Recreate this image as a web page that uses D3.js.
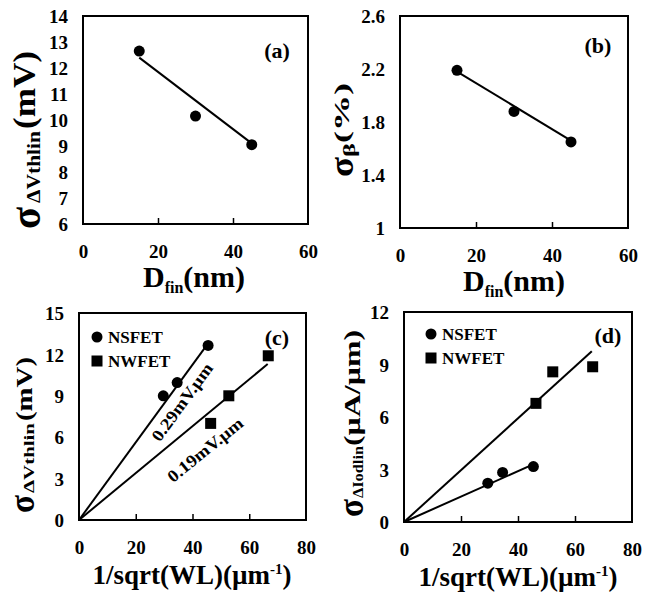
<!DOCTYPE html>
<html>
<head>
<meta charset="utf-8">
<script src="https://cdn.jsdelivr.net/npm/d3@7"></script>
<style>
  html, body { margin: 0; padding: 0; background: #fff; }
  svg { display: block; font-family: "Liberation Serif", "Times New Roman", serif; font-weight: bold; }
  svg text { font-family: "Liberation Serif", "Times New Roman", serif; font-weight: bold; fill: #000; }
</style>
</head>
<body>
<div id="chart"></div>
<script>
// ── data ────────────────────────────────────────────────────────────────
const dfin        = [15, 30, 45];
const sigmaVthA   = [12.65, 10.15, 9.05];
const fitA        = [[15, 12.4], [45, 9.1]];
const sigmaBeta   = [2.19, 1.88, 1.65];
const fitB        = [[15, 2.18], [45, 1.66]];

const nsInvC      = [29.7, 34.6, 45.5];
const nsVthC      = [9.0, 9.96, 12.65];
const nwInvC      = [46.4, 52.8, 66.7];
const nwVthC      = [7.0, 9.0, 11.9];
const fitNsC      = [[0, 0], [45.5, 12.8]];
const fitNwC      = [[0, 0], [66.5, 11.3]];

const nsInvD      = [29.4, 34.6, 45.4];
const nsIodD      = [2.22, 2.83, 3.17];
const nwInvD      = [46.3, 52.2, 66.2];
const nwIodD      = [6.78, 8.58, 8.87];
const fitNsD      = [[0, 0], [46.3, 3.36]];
const fitNwD      = [[0, 0], [65.9, 9.76]];

const ticksX60    = [0, 20, 40, 60];
const ticksX80    = [0, 20, 40, 60, 80];
const ticksYA     = [6, 7, 8, 9, 10, 11, 12, 13, 14];
const ticksYB     = [1, 1.4, 1.8, 2.2, 2.6];
const ticksYC     = [0, 3, 6, 9, 12, 15];
const ticksYD     = [0, 3, 6, 9, 12];

const legendNames = ['NSFET', 'NWFET'];
const slopeLabels = ['0.29mV.µm', '0.19mV.µm'];
// position of the slope notes in data units (x, y) and angle
const slopeNotes  = [[36.3, 8.55, -54], [44.4, 5.1, -39]];

const zip = (xs, ys) => xs.map((x, i) => [x, ys[i]]);

// ── panels ──────────────────────────────────────────────────────────────
const panels = [
  { tag: '(a)', box: [83, 308, 16, 224], xd: [0, 60], yd: [6, 14], xt: ticksX60, yt: ticksYA,
    fmt: d3.format('d'),
    series: [{ pts: zip(dfin, sigmaVthA), shape: 'circle', fit: fitA }],
    xTitle: { base: 'D', sub: 'fin', rest: '(nm)', cx: 194 },
    yTitle: { x: 35, y: 229, segs: [
      { t: 'σ', fs: 44, at: 0, len: 22, dy: 5 },
      { t: 'ΔVthlin', fs: 18, at: 26, len: 72, dy: 5 },
      { t: '(mV)', fs: 31, at: 100, len: 78, dy: 0 } ] },
    tagPos: [277, 58] },
  { tag: '(b)', box: [400, 628, 16, 228], xd: [0, 60], yd: [1, 2.6], xt: ticksX60, yt: ticksYB,
    fmt: d => d === 1 ? '1' : d3.format('.1f')(d),
    series: [{ pts: zip(dfin, sigmaBeta), shape: 'circle', fit: fitB }],
    xTitle: { base: 'D', sub: 'fin', rest: '(nm)', cx: 514 },
    yTitle: { x: 349, y: 177, segs: [
      { t: 'σ', fs: 34, at: 0, len: 20, dy: 4 },
      { t: 'β', fs: 17, at: 20, len: 14, dy: 6 },
      { t: '(%)', fs: 22, at: 34, len: 60, dy: 0 } ] },
    tagPos: [598, 53] },
  { tag: '(c)', box: [79, 306, 313, 520], xd: [0, 80], yd: [0, 15], xt: ticksX80, yt: ticksYC,
    fmt: d3.format('d'),
    series: [
      { pts: zip(nsInvC, nsVthC), shape: 'circle', fit: fitNsC },
      { pts: zip(nwInvC, nwVthC), shape: 'square', fit: fitNwC } ],
    legend: [97, 337],
    notes: true,
    xTitle: { wl: true, cx: 192 },
    yTitle: { x: 32, y: 513, segs: [
      { t: 'σ', fs: 36, at: 0, len: 18, dy: 2 },
      { t: 'ΔVthlin', fs: 15, at: 20, len: 70, dy: 2 },
      { t: '(mV)', fs: 24, at: 92, len: 64, dy: 0 } ] },
    tagPos: [277, 345] },
  { tag: '(d)', box: [404, 632, 312, 522], xd: [0, 80], yd: [0, 12], xt: ticksX80, yt: ticksYD,
    fmt: d3.format('d'),
    series: [
      { pts: zip(nsInvD, nsIodD), shape: 'circle', fit: fitNsD },
      { pts: zip(nwInvD, nwIodD), shape: 'square', fit: fitNwD } ],
    legend: [431, 334],
    xTitle: { wl: true, cx: 518 },
    yTitle: { x: 360, y: 517, segs: [
      { t: 'σ', fs: 36, at: 0, len: 18, dy: 3 },
      { t: 'ΔIodlin', fs: 15, at: 19, len: 52, dy: 3 },
      { t: '(µA/µm)', fs: 24, at: 71, len: 116, dy: 0 } ] },
    tagPos: [608, 343] }
];

const svg = d3.select('#chart').append('svg')
  .attr('width', 656).attr('height', 596)
  .style('background', '#fff');

panels.forEach(p => drawPanel(p));

function drawPanel(p) {
  const [x0, x1, y0, y1] = p.box;
  const x = d3.scaleLinear().domain(p.xd).range([x0, x1]);
  const y = d3.scaleLinear().domain(p.yd).range([y1, y0]);
  const g = svg.append('g');

  // inner tick marks on the bottom edge
  g.append('g').attr('transform', `translate(0,${y1})`)
    .call(d3.axisBottom(x).tickValues(p.xt.slice(1, -1)).tickSize(-6).tickFormat(''))
    .call(s => s.select('.domain').remove())
    .selectAll('line').attr('stroke', '#000').attr('stroke-width', 1.5);

  // tick labels
  g.append('g').attr('transform', `translate(0,${y1 + 34})`)
    .call(d3.axisBottom(x).tickValues(p.xt).tickSize(0).tickPadding(0).tickFormat(d3.format('d')))
    .attr('font-family', null).attr('font-size', null)
    .call(s => s.select('.domain').remove())
    .selectAll('text').attr('dy', 0)
    .style('font-size', '19px');

  g.append('g').attr('transform', `translate(${x0 - 15},0)`)
    .call(d3.axisLeft(y).tickValues(p.yt).tickSize(0).tickPadding(0).tickFormat(p.fmt))
    .attr('font-family', null).attr('font-size', null)
    .call(s => s.select('.domain').remove())
    .selectAll('text').attr('dy', '0.35em')
    .style('font-size', '19px');

  // frame
  g.append('rect').attr('x', x0).attr('y', y0).attr('width', x1 - x0).attr('height', y1 - y0)
    .attr('fill', 'none').attr('stroke', '#000').attr('stroke-width', 2);

  const line = d3.line().x(d => x(d[0])).y(d => y(d[1]));

  p.series.forEach(s => {
    g.append('path').attr('d', line(s.fit))
      .attr('fill', 'none').attr('stroke', '#000').attr('stroke-width', 2);
    drawMarks(g, s.pts.map(d => [x(d[0]), y(d[1])]), s.shape);
  });

  // legend
  if (p.legend) {
    const [lx, ly] = p.legend;
    legendNames.forEach((name, i) => {
      drawMarks(g, [[lx, ly + i * 24]], i ? 'square' : 'circle');
      g.append('text').attr('x', lx + 11).attr('y', ly + i * 24 + 6)
        .style('font-size', '17px').text(name);
    });
  }

  // slope notes
  if (p.notes) {
    slopeNotes.forEach((n, i) => {
      g.append('text')
        .attr('transform', `translate(${x(n[0])},${y(n[1])}) rotate(${n[2]})`)
        .attr('text-anchor', 'middle').attr('dy', '0.35em')
        .attr('textLength', 92).attr('lengthAdjust', 'spacingAndGlyphs')
        .style('font-size', '17px').text(slopeLabels[i]);
    });
  }

  // panel tag
  g.append('text').attr('x', p.tagPos[0]).attr('y', p.tagPos[1])
    .attr('text-anchor', 'middle').style('font-size', '22px').text(p.tag);

  // x title
  const tx = g.append('text').attr('x', p.xTitle.cx).attr('text-anchor', 'middle');
  if (p.xTitle.wl) {
    tx.attr('y', y1 + 64).style('font-size', '27px');
    tx.append('tspan').text('1/sqrt(WL)(µm');
    tx.append('tspan').attr('dy', -10).style('font-size', '15px').text('-1');
    tx.append('tspan').attr('dy', 10).text(')');
  } else {
    tx.attr('y', y1 + 63).style('font-size', '30px');
    tx.append('tspan').text(p.xTitle.base);
    tx.append('tspan').attr('dy', 6).style('font-size', '16px').text(p.xTitle.sub);
    tx.append('tspan').attr('dy', -6).text(p.xTitle.rest);
  }

  // y title: pieces laid along the rotated axis
  const yt = g.append('g')
    .attr('transform', `translate(${p.yTitle.x},${p.yTitle.y}) rotate(-90)`);
  p.yTitle.segs.forEach(s => {
    yt.append('text').attr('x', s.at).attr('y', s.dy)
      .attr('textLength', s.len).attr('lengthAdjust', 'spacingAndGlyphs')
      .style('font-size', s.fs + 'px').text(s.t);
  });
}

function drawMarks(g, pts, shape) {
  pts.forEach(([px, py]) => {
    if (shape === 'circle') {
      g.append('circle').attr('cx', px).attr('cy', py).attr('r', 5.5).attr('fill', '#000');
    } else {
      g.append('rect').attr('x', px - 5.5).attr('y', py - 5.5)
        .attr('width', 11).attr('height', 11).attr('fill', '#000');
    }
  });
}
</script>
</body>
</html>
